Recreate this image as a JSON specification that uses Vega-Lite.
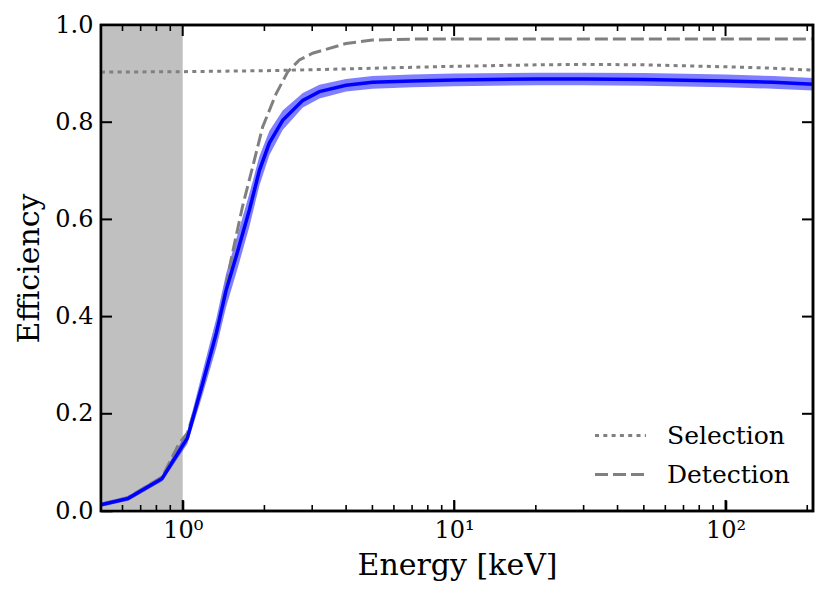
{
  "$schema": "https://vega.github.io/schema/vega-lite/v6.json",
  "width": 712,
  "height": 486,
  "autosize": "none",
  "padding": {"left": 101, "top": 25, "right": 16, "bottom": 86},
  "background": "white",
  "datasets": {
    "shade": [{"lo": 0.5, "hi": 1.0}],
    "xmajor": [{"v": 1}, {"v": 10}, {"v": 100}],
    "xminor": [
      {"v": 0.6}, {"v": 0.7}, {"v": 0.8}, {"v": 0.9},
      {"v": 2}, {"v": 3}, {"v": 4}, {"v": 5}, {"v": 6}, {"v": 7}, {"v": 8}, {"v": 9},
      {"v": 20}, {"v": 30}, {"v": 40}, {"v": 50}, {"v": 60}, {"v": 70}, {"v": 80}, {"v": 90},
      {"v": 200}
    ],
    "ymajor": [{"v": 0.2}, {"v": 0.4}, {"v": 0.6}, {"v": 0.8}],
    "total": [
      {"E": 0.5, "eff": 0.013, "lo": 0.009, "hi": 0.017},
      {"E": 0.63, "eff": 0.026, "lo": 0.021, "hi": 0.031},
      {"E": 0.84, "eff": 0.067, "lo": 0.061, "hi": 0.073},
      {"E": 1.04, "eff": 0.15, "lo": 0.138, "hi": 0.164},
      {"E": 1.185, "eff": 0.263, "lo": 0.24, "hi": 0.288},
      {"E": 1.33, "eff": 0.366, "lo": 0.336, "hi": 0.396},
      {"E": 1.445, "eff": 0.454, "lo": 0.42, "hi": 0.488},
      {"E": 1.595, "eff": 0.535, "lo": 0.5, "hi": 0.57},
      {"E": 1.76, "eff": 0.619, "lo": 0.585, "hi": 0.653},
      {"E": 1.917, "eff": 0.701, "lo": 0.67, "hi": 0.73},
      {"E": 2.085, "eff": 0.757, "lo": 0.732, "hi": 0.782},
      {"E": 2.335, "eff": 0.804, "lo": 0.784, "hi": 0.824},
      {"E": 2.77, "eff": 0.845, "lo": 0.83, "hi": 0.86},
      {"E": 3.19, "eff": 0.863, "lo": 0.849, "hi": 0.877},
      {"E": 4.0, "eff": 0.876, "lo": 0.863, "hi": 0.889},
      {"E": 5.0, "eff": 0.882, "lo": 0.869, "hi": 0.895},
      {"E": 7.0, "eff": 0.885, "lo": 0.872, "hi": 0.898},
      {"E": 10, "eff": 0.887, "lo": 0.874, "hi": 0.9},
      {"E": 20, "eff": 0.889, "lo": 0.876, "hi": 0.902},
      {"E": 30, "eff": 0.889, "lo": 0.876, "hi": 0.902},
      {"E": 50, "eff": 0.888, "lo": 0.875, "hi": 0.901},
      {"E": 100, "eff": 0.885, "lo": 0.872, "hi": 0.898},
      {"E": 150, "eff": 0.882, "lo": 0.869, "hi": 0.895},
      {"E": 210, "eff": 0.878, "lo": 0.865, "hi": 0.891}
    ],
    "curves": [
      {"series": "Selection", "E": 0.5, "eff": 0.903},
      {"series": "Selection", "E": 1, "eff": 0.904},
      {"series": "Selection", "E": 2, "eff": 0.906},
      {"series": "Selection", "E": 3, "eff": 0.908},
      {"series": "Selection", "E": 5, "eff": 0.911},
      {"series": "Selection", "E": 10, "eff": 0.915},
      {"series": "Selection", "E": 20, "eff": 0.918},
      {"series": "Selection", "E": 30, "eff": 0.919},
      {"series": "Selection", "E": 50, "eff": 0.918},
      {"series": "Selection", "E": 100, "eff": 0.914},
      {"series": "Selection", "E": 150, "eff": 0.911},
      {"series": "Selection", "E": 210, "eff": 0.907},
      {"series": "Detection", "E": 0.5, "eff": 0.014},
      {"series": "Detection", "E": 0.63, "eff": 0.028},
      {"series": "Detection", "E": 0.84, "eff": 0.07},
      {"series": "Detection", "E": 0.97, "eff": 0.139},
      {"series": "Detection", "E": 1.04, "eff": 0.16},
      {"series": "Detection", "E": 1.22, "eff": 0.283},
      {"series": "Detection", "E": 1.365, "eff": 0.393},
      {"series": "Detection", "E": 1.507, "eff": 0.517},
      {"series": "Detection", "E": 1.66, "eff": 0.626},
      {"series": "Detection", "E": 1.81, "eff": 0.708},
      {"series": "Detection", "E": 1.97, "eff": 0.79},
      {"series": "Detection", "E": 2.21, "eff": 0.859},
      {"series": "Detection", "E": 2.44, "eff": 0.904},
      {"series": "Detection", "E": 2.69, "eff": 0.928},
      {"series": "Detection", "E": 3.01, "eff": 0.942},
      {"series": "Detection", "E": 4.0, "eff": 0.962},
      {"series": "Detection", "E": 5.0, "eff": 0.969},
      {"series": "Detection", "E": 7.0, "eff": 0.971},
      {"series": "Detection", "E": 10, "eff": 0.971},
      {"series": "Detection", "E": 210, "eff": 0.971}
    ]
  },
  "resolve": {"axis": {"x": "independent", "y": "independent"}},
  "layer": [
    {
      "data": {"name": "shade"},
      "mark": {"type": "rect", "color": "#c0c0c0"},
      "encoding": {
        "x": {
          "field": "lo", "type": "quantitative",
          "scale": {"type": "log", "domain": [0.5, 210], "nice": false},
          "axis": {
            "orient": "bottom",
            "title": "Energy [keV]",
            "values": [1, 10, 100],
            "labelExpr": "datum.value == 1 ? '10⁰' : datum.value == 10 ? '10¹' : '10²'",
            "tickSize": -11,
            "labelPadding": 18,
            "titlePadding": 8
          }
        },
        "x2": {"field": "hi"}
      }
    },
    {
      "data": {"name": "total"},
      "mark": {"type": "area", "color": "#0000ff", "opacity": 0.5},
      "encoding": {
        "x": {"field": "E", "type": "quantitative", "axis": null},
        "y": {
          "field": "lo", "type": "quantitative",
          "scale": {"domain": [0, 1], "nice": false},
          "axis": {
            "orient": "left",
            "title": "Efficiency",
            "values": [0, 0.2, 0.4, 0.6, 0.8, 1.0],
            "format": ".1f",
            "tickSize": -11,
            "labelPadding": 19,
            "titlePadding": 10
          }
        },
        "y2": {"field": "hi"}
      }
    },
    {
      "data": {"name": "curves"},
      "mark": {"type": "line", "strokeWidth": 3, "color": "#808080"},
      "encoding": {
        "x": {"field": "E", "type": "quantitative", "axis": null},
        "y": {"field": "eff", "type": "quantitative", "axis": null},
        "strokeDash": {
          "field": "series", "type": "nominal",
          "scale": {"domain": ["Selection", "Detection"], "range": [[4, 4.3], [13, 5]]},
          "legend": {
            "title": null,
            "orient": "bottom-right",
            "offset": 23,
            "symbolType": "M-2,0H2",
            "symbolSize": 650,
            "symbolStrokeWidth": 3,
            "symbolStrokeColor": "#808080",
            "labelOffset": 32,
            "labelFontSize": 25,
            "labelFont": "DejaVu Serif",
            "labelColor": "black",
            "rowPadding": 11
          }
        }
      }
    },
    {
      "data": {"name": "total"},
      "mark": {"type": "line", "strokeWidth": 3.5, "color": "#0000ff"},
      "encoding": {
        "x": {"field": "E", "type": "quantitative", "axis": null},
        "y": {"field": "eff", "type": "quantitative", "axis": null}
      }
    },
    {
      "data": {"name": "xmajor"},
      "mark": {"type": "rule", "color": "#000000", "strokeWidth": 2, "opacity": 1},
      "encoding": {
        "x": {"field": "v", "type": "quantitative", "axis": null},
        "y": {"datum": 0, "type": "quantitative", "axis": null},
        "y2": {"datum": 0.0227}
      }
    },
    {
      "data": {"name": "xmajor"},
      "mark": {"type": "rule", "color": "#000000", "strokeWidth": 2, "opacity": 1},
      "encoding": {
        "x": {"field": "v", "type": "quantitative", "axis": null},
        "y": {"datum": 1, "type": "quantitative", "axis": null},
        "y2": {"datum": 0.9773}
      }
    },
    {
      "data": {"name": "xminor"},
      "mark": {"type": "rule", "color": "#000000", "strokeWidth": 1.6, "opacity": 1},
      "encoding": {
        "x": {"field": "v", "type": "quantitative", "axis": null},
        "y": {"datum": 0, "type": "quantitative", "axis": null},
        "y2": {"datum": 0.0124}
      }
    },
    {
      "data": {"name": "xminor"},
      "mark": {"type": "rule", "color": "#000000", "strokeWidth": 1.6, "opacity": 1},
      "encoding": {
        "x": {"field": "v", "type": "quantitative", "axis": null},
        "y": {"datum": 1, "type": "quantitative", "axis": null},
        "y2": {"datum": 0.9876}
      }
    },
    {
      "data": {"name": "ymajor"},
      "mark": {"type": "rule", "color": "#000000", "strokeWidth": 2, "opacity": 1},
      "encoding": {
        "y": {"field": "v", "type": "quantitative", "axis": null},
        "x": {"datum": 0.549, "type": "quantitative", "axis": null},
        "x2": {"datum": 0.5}
      }
    },
    {
      "data": {"name": "ymajor"},
      "mark": {"type": "rule", "color": "#000000", "strokeWidth": 2, "opacity": 1},
      "encoding": {
        "y": {"field": "v", "type": "quantitative", "axis": null},
        "x": {"datum": 210, "type": "quantitative", "axis": null},
        "x2": {"datum": 191.3}
      }
    },
    {
      "data": {"name": "shade"},
      "mark": {"type": "rect", "filled": false, "color": "#000000", "strokeWidth": 2.5, "opacity": 1},
      "encoding": {
        "x": {"datum": 0.5, "type": "quantitative", "axis": null},
        "x2": {"datum": 210},
        "y": {"datum": 0, "type": "quantitative", "axis": null},
        "y2": {"datum": 1}
      }
    }
  ],
  "config": {
    "view": {"stroke": "#000000", "strokeWidth": 2.5},
    "font": "DejaVu Serif",
    "axis": {
      "grid": false,
      "domain": false,
      "tickColor": "#000000",
      "tickWidth": 1.6,
      "labelFont": "DejaVu Serif",
      "labelFontSize": 24,
      "labelColor": "black",
      "titleFont": "DejaVu Serif",
      "titleFontSize": 30,
      "titleFontWeight": "normal",
      "titleColor": "black"
    }
  }
}
